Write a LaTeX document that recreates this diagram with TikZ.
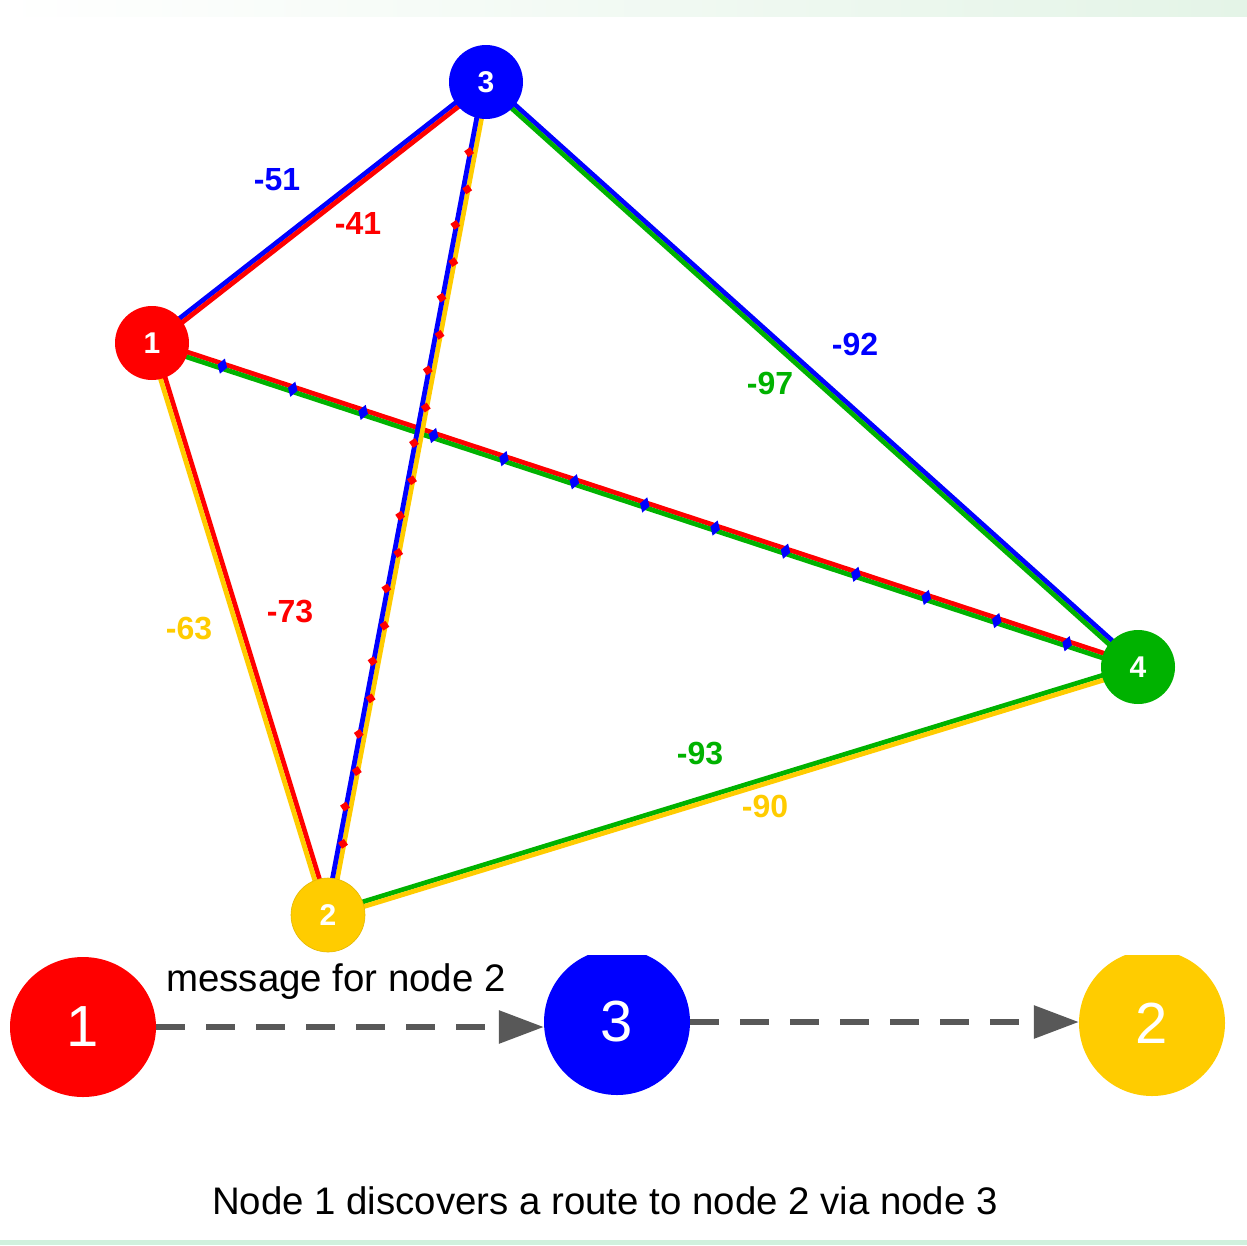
\documentclass[tikz,border=0pt]{standalone}
\usepackage{fontspec}
\setmainfont{Liberation Sans}
\usetikzlibrary{calc,arrows.meta,decorations.markings,backgrounds,shapes.geometric}

\definecolor{nred}{RGB}{255,0,0}
\definecolor{nblue}{RGB}{0,0,255}
\definecolor{ngreen}{RGB}{0,178,0}
\definecolor{nyellow}{RGB}{255,204,0}
\definecolor{flowgray}{RGB}{88,88,88}
\definecolor{bandgreen}{RGB}{228,244,231}
\definecolor{mint}{RGB}{208,240,221}

% two parallel strokes between two nodes: #3 on the left of #1->#2, #4 on the right
\newcommand\twotone[4]{%
  \draw[link,#3] ($(#1.center)!2.4pt!90:(#2.center)$) -- ($(#2.center)!2.4pt!-90:(#1.center)$);
  \draw[link,#4] ($(#1.center)!2.4pt!-90:(#2.center)$) -- ($(#2.center)!2.4pt!90:(#1.center)$);}

\begin{document}
\begin{tikzpicture}[x=1pt,y=-1pt,
  vertex/.style={circle, minimum size=74pt, inner sep=0pt, text=white,
    font=\fontsize{30}{30}\selectfont\bfseries},
  bigdot/.style={ellipse, minimum width=146pt, minimum height=146pt, inner sep=0pt,
    text=white, font=\fontsize{58}{58}\selectfont},
  link/.style={line width=4.8pt},
  wlabel/.style={inner sep=0pt, font=\fontsize{32}{32}\selectfont\bfseries},
  plain/.style={inner sep=0pt, font=\fontsize{38.4}{40}\selectfont},
  flow/.style={flowgray, line width=6pt, dash pattern=on 29pt off 21pt,
    -{Triangle[length=45pt,width=32pt]}},
  bluemarks/.style={decoration={markings,
    mark=between positions 0.0714 and 0.94 step 0.0714 with
      {\fill[nblue] (-5pt,0pt) -- (0pt,8pt) -- (5pt,0pt) -- (0pt,-8pt) -- cycle;}},
    postaction={decorate}},
  redmarks/.style={decoration={markings,
    mark=between positions 0.085 and 0.88 step 0.0873 with
      {\fill[nred] (-5pt,-3.5pt) -- (0pt,1.5pt) -- (5pt,-3.5pt) -- (0pt,-8.5pt) -- cycle;},
    mark=between positions 0.1286 and 0.92 step 0.0873 with
      {\fill[nred] (-5pt,1.5pt) -- (0pt,6.5pt) -- (5pt,1.5pt) -- (0pt,-3.5pt) -- cycle;}},
    postaction={decorate}}
]
\useasboundingbox (0,0) rectangle (1247,1245);

% network vertices
\node[vertex, fill=nred] (n1) at (152,343) {1};
\node[vertex, fill=nblue] (n3) at (486,82) {3};
\node[vertex, fill=ngreen] (n4) at (1138,667) {4};
\node[vertex, fill=nyellow, draw=nyellow!90!black, line width=0.6pt] (n2) at (328,915) {2};

\begin{pgfonlayer}{background}
  \fill[white] (0,0) rectangle (1247,1245);
  \shade[left color=white, right color=bandgreen] (0,0) rectangle (1247,16);
  \fill[mint] (0,1240) rectangle (1247,1245);
  % links, each drawn in the colours of the two routes that use it
  \twotone{n1}{n4}{nred}{ngreen}
  \path[bluemarks] (n1.center) -- (n4.center);
  \twotone{n1}{n3}{nblue}{nred}
  \twotone{n1}{n2}{nred}{nyellow}
  \twotone{n3}{n4}{nblue}{ngreen}
  \twotone{n2}{n4}{ngreen}{nyellow}
  \twotone{n3}{n2}{nyellow}{nblue}
  \path[redmarks] (n3.center) -- (n2.center);
\end{pgfonlayer}

% link costs
\node[wlabel, text=nblue] (c51) at (277,180) {-51};
\node[wlabel, text=nred] (c41) at (358,223) {-41};
\node[wlabel, text=nblue] (c92) at (855,344) {-92};
\node[wlabel, text=ngreen] (c97) at (770,383) {-97};
\node[wlabel, text=nyellow] (c63) at (189,628) {-63};
\node[wlabel, text=nred] (c73) at (290,611) {-73};
\node[wlabel, text=ngreen] (c93) at (700,753) {-93};
\node[wlabel, text=nyellow] (c90) at (765,806) {-90};

% the route 1 -> 3 -> 2
\begin{scope}
  \clip (0,955) rectangle (1247,1245);
  \node[bigdot, fill=nred, minimum height=140pt] (b1) at (83,1027) {1};
  \node[bigdot, fill=nblue] (b3) at (617,1022) {3};
  \node[bigdot, fill=nyellow] (b2) at (1152,1023) {2};
\end{scope}
\draw[flow] (b1.east) -- (b1.east -| b3.west);
\draw[flow] (b3.east) -- (b3.east -| b2.west);
\node[plain] (msg) at (336,982) {message for node 2};
\node[plain] (cap) at (605,1201) {Node 1 discovers a route to node 2 via node 3};
\end{tikzpicture}
\end{document}
